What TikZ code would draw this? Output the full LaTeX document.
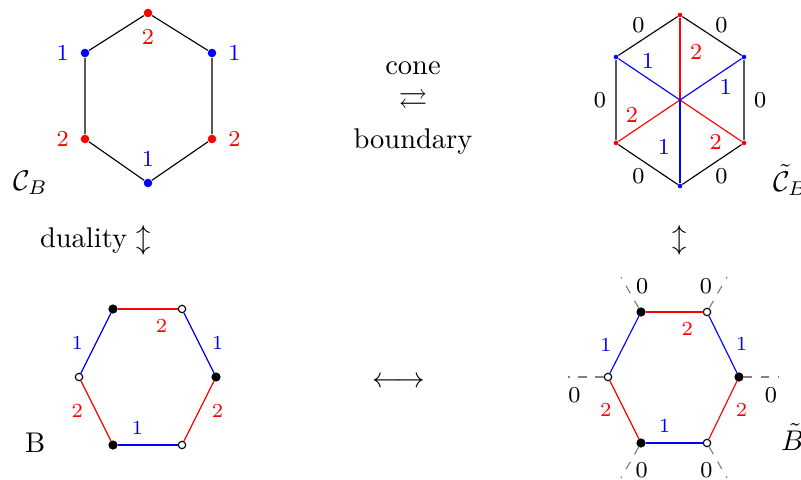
\documentclass[tikz,border=0pt]{standalone}
\usepackage{amsmath,amssymb}
\tikzset{
  dotvtx/.style={circle, inner sep=0pt, minimum size=3pt},
  tinyvtx/.style={circle, inner sep=0pt, minimum size=1.6pt},
  blackvtx/.style={circle, draw=black, fill=black, inner sep=0pt, minimum size=2.8pt},
  whitevtx/.style={circle, draw=black, fill=white, line width=0.4pt, inner sep=0pt, minimum size=2.6pt},
  lab/.style={font=\footnotesize},
  slab/.style={font=\scriptsize},
  leg/.style={dashed, gray},
}
\begin{document}
\begin{tikzpicture}[x=0.351pt, y=-0.351pt]
    \definecolor{colRed}{HTML}{FF0000}
    \definecolor{colBlue}{HTML}{0000FF}

    \useasboundingbox (0,0) rectangle (801,480);

    % Cone C_B: vertices with weights
    \node[dotvtx, fill=colRed, label={[lab, text=colRed, label distance=0.5pt]below:2}] (cbN) at (148,13) {};
    \node[dotvtx, fill=colBlue, label={[lab, text=colBlue, label distance=0.5pt]left:1}] (cbNW) at (85,53) {};
    \node[dotvtx, fill=colBlue, label={[lab, text=colBlue, label distance=0.5pt]right:1}] (cbNE) at (212,53) {};
    \node[dotvtx, fill=colRed, label={[lab, text=colRed, label distance=0.5pt]left:2}] (cbSW) at (85,139) {};
    \node[dotvtx, fill=colRed, label={[lab, text=colRed, label distance=0.5pt]right:2}] (cbSE) at (212,139) {};
    \node[dotvtx, fill=colBlue, label={[lab, text=colBlue, label distance=0.5pt]above:1}] (cbS) at (148,183) {};
    \draw (cbN) -- (cbNW) -- (cbSW) -- (cbS) -- (cbSE) -- (cbNE) -- (cbN);
    \node[anchor=base west] (cbLab) at (3,190) {$\mathcal{C}_B$};

    % Cone with boundary: outer edges 0, spokes 1 and 2
    \coordinate (ctc) at (680,100);
    \node[tinyvtx, fill=colRed] (ctN) at (680,15) {};
    \node[tinyvtx, fill=colBlue] (ctNW) at (616,57) {};
    \node[tinyvtx, fill=colBlue] (ctNE) at (744,57) {};
    \node[tinyvtx, fill=colRed] (ctSW) at (616,143) {};
    \node[tinyvtx, fill=colRed] (ctSE) at (744,143) {};
    \node[tinyvtx, fill=colBlue] (ctS) at (680,186) {};
    \draw (ctN) -- node[lab, above left, inner sep=1pt] {0} (ctNW)
        -- node[lab, left] {0} (ctSW)
        -- node[lab, below left, inner sep=1pt] {0} (ctS)
        -- node[lab, below right, inner sep=1pt] {0} (ctSE)
        -- node[lab, right] {0} (ctNE)
        -- node[lab, above right, inner sep=1pt] {0} (ctN);
    \draw[colRed] (ctc) -- node[lab, pos=.59, right] {2} (ctN);
    \draw[colBlue] (ctc) -- node[lab, pos=.52, above] {1} (ctNW);
    \draw[colBlue] (ctc) -- node[lab, pos=.74, below] {1} (ctNE);
    \draw[colRed] (ctc) -- node[lab, pos=.78, above] {2} (ctSW);
    \draw[colRed] (ctc) -- node[lab, pos=.58, below] {2} (ctSE);
    \draw[colBlue] (ctc) -- node[lab, pos=.56, left] {1} (ctS);
    \node[anchor=base west] (ctLab) at (763,191) {$\tilde{\mathcal{C}}_B$};

    % Arrows between the pictures
    \node[align=center] (cone) at (413,108) {cone\\$\rightleftarrows$\\[2pt]boundary};
    \node[anchor=base west] (dual) at (30,247) {duality $\updownarrow$};
    \node[anchor=base] (dualt) at (680,247) {$\updownarrow$};
    \node (corr) at (399,382) {$\longleftrightarrow$};

    % Brane tiling B
    \node[blackvtx] (bNW) at (113,309) {};
    \node[whitevtx] (bNE) at (182,309) {};
    \node[blackvtx] (bE) at (216,377) {};
    \node[whitevtx] (bW) at (79,377) {};
    \node[blackvtx] (bSW) at (113,445) {};
    \node[whitevtx] (bSE) at (182,445) {};
    \draw[colRed] (bNW) -- node[slab, pos=.73, below] {2} (bNE);
    \draw[colBlue] (bNE) -- node[slab, right=1pt] {1} (bE);
    \draw[colRed] (bE) -- node[slab, right=1pt] {2} (bSE);
    \draw[colBlue] (bSW) -- node[slab, pos=.33, above] {1} (bSE);
    \draw[colRed] (bW) -- node[slab, left=1pt] {2} (bSW);
    \draw[colBlue] (bNW) -- node[slab, left=1pt] {1} (bW);
    \node[anchor=base west] (bLab) at (15,452) {B};

    % Tiling with external legs
    \node[blackvtx] (btNW) at (641,312) {};
    \node[whitevtx] (btNE) at (707,312) {};
    \node[blackvtx] (btE) at (739,377) {};
    \node[whitevtx] (btW) at (608,377) {};
    \node[blackvtx] (btSW) at (641,443) {};
    \node[whitevtx] (btSE) at (707,443) {};
    \draw[colRed] (btNW) -- node[slab, pos=.73, below] {2} (btNE);
    \draw[colBlue] (btNE) -- node[slab, right=1pt] {1} (btE);
    \draw[colRed] (btE) -- node[slab, right=1pt] {2} (btSE);
    \draw[colBlue] (btSW) -- node[slab, pos=.33, above] {1} (btSE);
    \draw[colRed] (btW) -- node[slab, left=1pt] {2} (btSW);
    \draw[colBlue] (btNW) -- node[slab, left=1pt] {1} (btW);

    \coordinate (legW) at (568,377);
    \coordinate (legE) at (779,377);
    \coordinate (legNW) at (621,277);
    \coordinate (legNE) at (727,277);
    \coordinate (legSW) at (621,478);
    \coordinate (legSE) at (727,478);
    \draw[leg] (btW) -- node[lab, text=black, pos=.82, below] {0} (legW);
    \draw[leg] (btE) -- node[lab, text=black, pos=.77, below] {0} (legE);
    \draw[leg] (btNW) -- node[lab, text=black, pos=.72, right] {0} (legNW);
    \draw[leg] (btNE) -- node[lab, text=black, pos=.72, left] {0} (legNE);
    \draw[leg] (btSW) -- node[lab, text=black, pos=.75, right] {0} (legSW);
    \draw[leg] (btSE) -- node[lab, text=black, pos=.75, left] {0} (legSE);
    \node[anchor=base west] (btLab) at (771,450) {$\tilde{B}$};
\end{tikzpicture}
\end{document}
